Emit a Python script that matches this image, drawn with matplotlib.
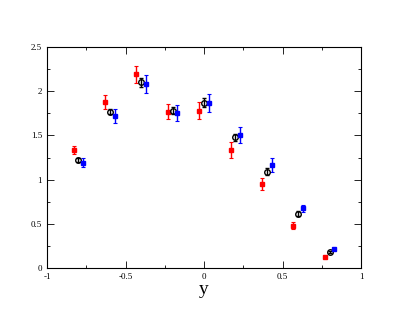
import matplotlib
matplotlib.use('Agg')
import matplotlib.pyplot as plt
from matplotlib.ticker import MultipleLocator, FuncFormatter

plt.rcParams['font.family'] = ['Liberation Serif', 'DejaVu Serif']

# red series
x_red = [-0.83, -0.63, -0.43, -0.23, -0.03, 0.17, 0.37, 0.57, 0.77]
y_red = [1.335, 1.88, 2.19, 1.77, 1.78, 1.33, 0.95, 0.48, 0.125]
e_red = [0.05, 0.08, 0.10, 0.09, 0.10, 0.09, 0.07, 0.04, 0.015]

# black series
x_blk = [-0.80, -0.60, -0.40, -0.20, 0.00, 0.20, 0.40, 0.60, 0.80]
y_blk = [1.22, 1.77, 2.10, 1.78, 1.87, 1.48, 1.09, 0.615, 0.18]
e_blk = [0.02, 0.03, 0.05, 0.04, 0.05, 0.04, 0.04, 0.03, 0.015]

# blue series
x_blu = [-0.77, -0.57, -0.37, -0.17, 0.03, 0.23, 0.43, 0.63, 0.83]
y_blu = [1.19, 1.72, 2.08, 1.75, 1.87, 1.50, 1.165, 0.675, 0.21]
e_blu = [0.05, 0.08, 0.10, 0.09, 0.10, 0.09, 0.08, 0.04, 0.01]

fig = plt.figure(figsize=(4.07, 3.15), dpi=100)
ax = fig.add_axes([0.1155, 0.149, 0.7715, 0.702])

ax.errorbar(x_red, y_red, yerr=e_red, fmt='s', color='red', ms=3.5,
            elinewidth=1, capsize=1.2, capthick=0.8)
ax.errorbar(x_blk, y_blk, yerr=e_blk, fmt='o', color='black', mfc='none',
            mew=1, ms=4, elinewidth=1, capsize=1.5, capthick=0.8)
ax.errorbar(x_blu, y_blu, yerr=e_blu, fmt='s', color='blue', ms=3,
            elinewidth=1, capsize=1.2, capthick=0.8)

fmt = FuncFormatter(lambda v, p: '%g' % v)
ax.set_xlim(-1, 1)
ax.set_ylim(0, 2.5)
ax.xaxis.set_major_locator(MultipleLocator(0.5))
ax.xaxis.set_minor_locator(MultipleLocator(0.25))
ax.yaxis.set_major_locator(MultipleLocator(0.5))
ax.yaxis.set_minor_locator(MultipleLocator(0.25))
ax.xaxis.set_major_formatter(fmt)
ax.yaxis.set_major_formatter(fmt)
ax.tick_params(which='both', direction='in', top=True, right=True,
               labelsize=6.5, width=0.6)
ax.tick_params(which='major', length=5)
ax.tick_params(which='minor', length=2.5)
for s in ax.spines.values():
    s.set_linewidth(0.8)

ax.set_xlabel('y', fontsize=14, labelpad=0)

fig.savefig('out.png', dpi=100)
